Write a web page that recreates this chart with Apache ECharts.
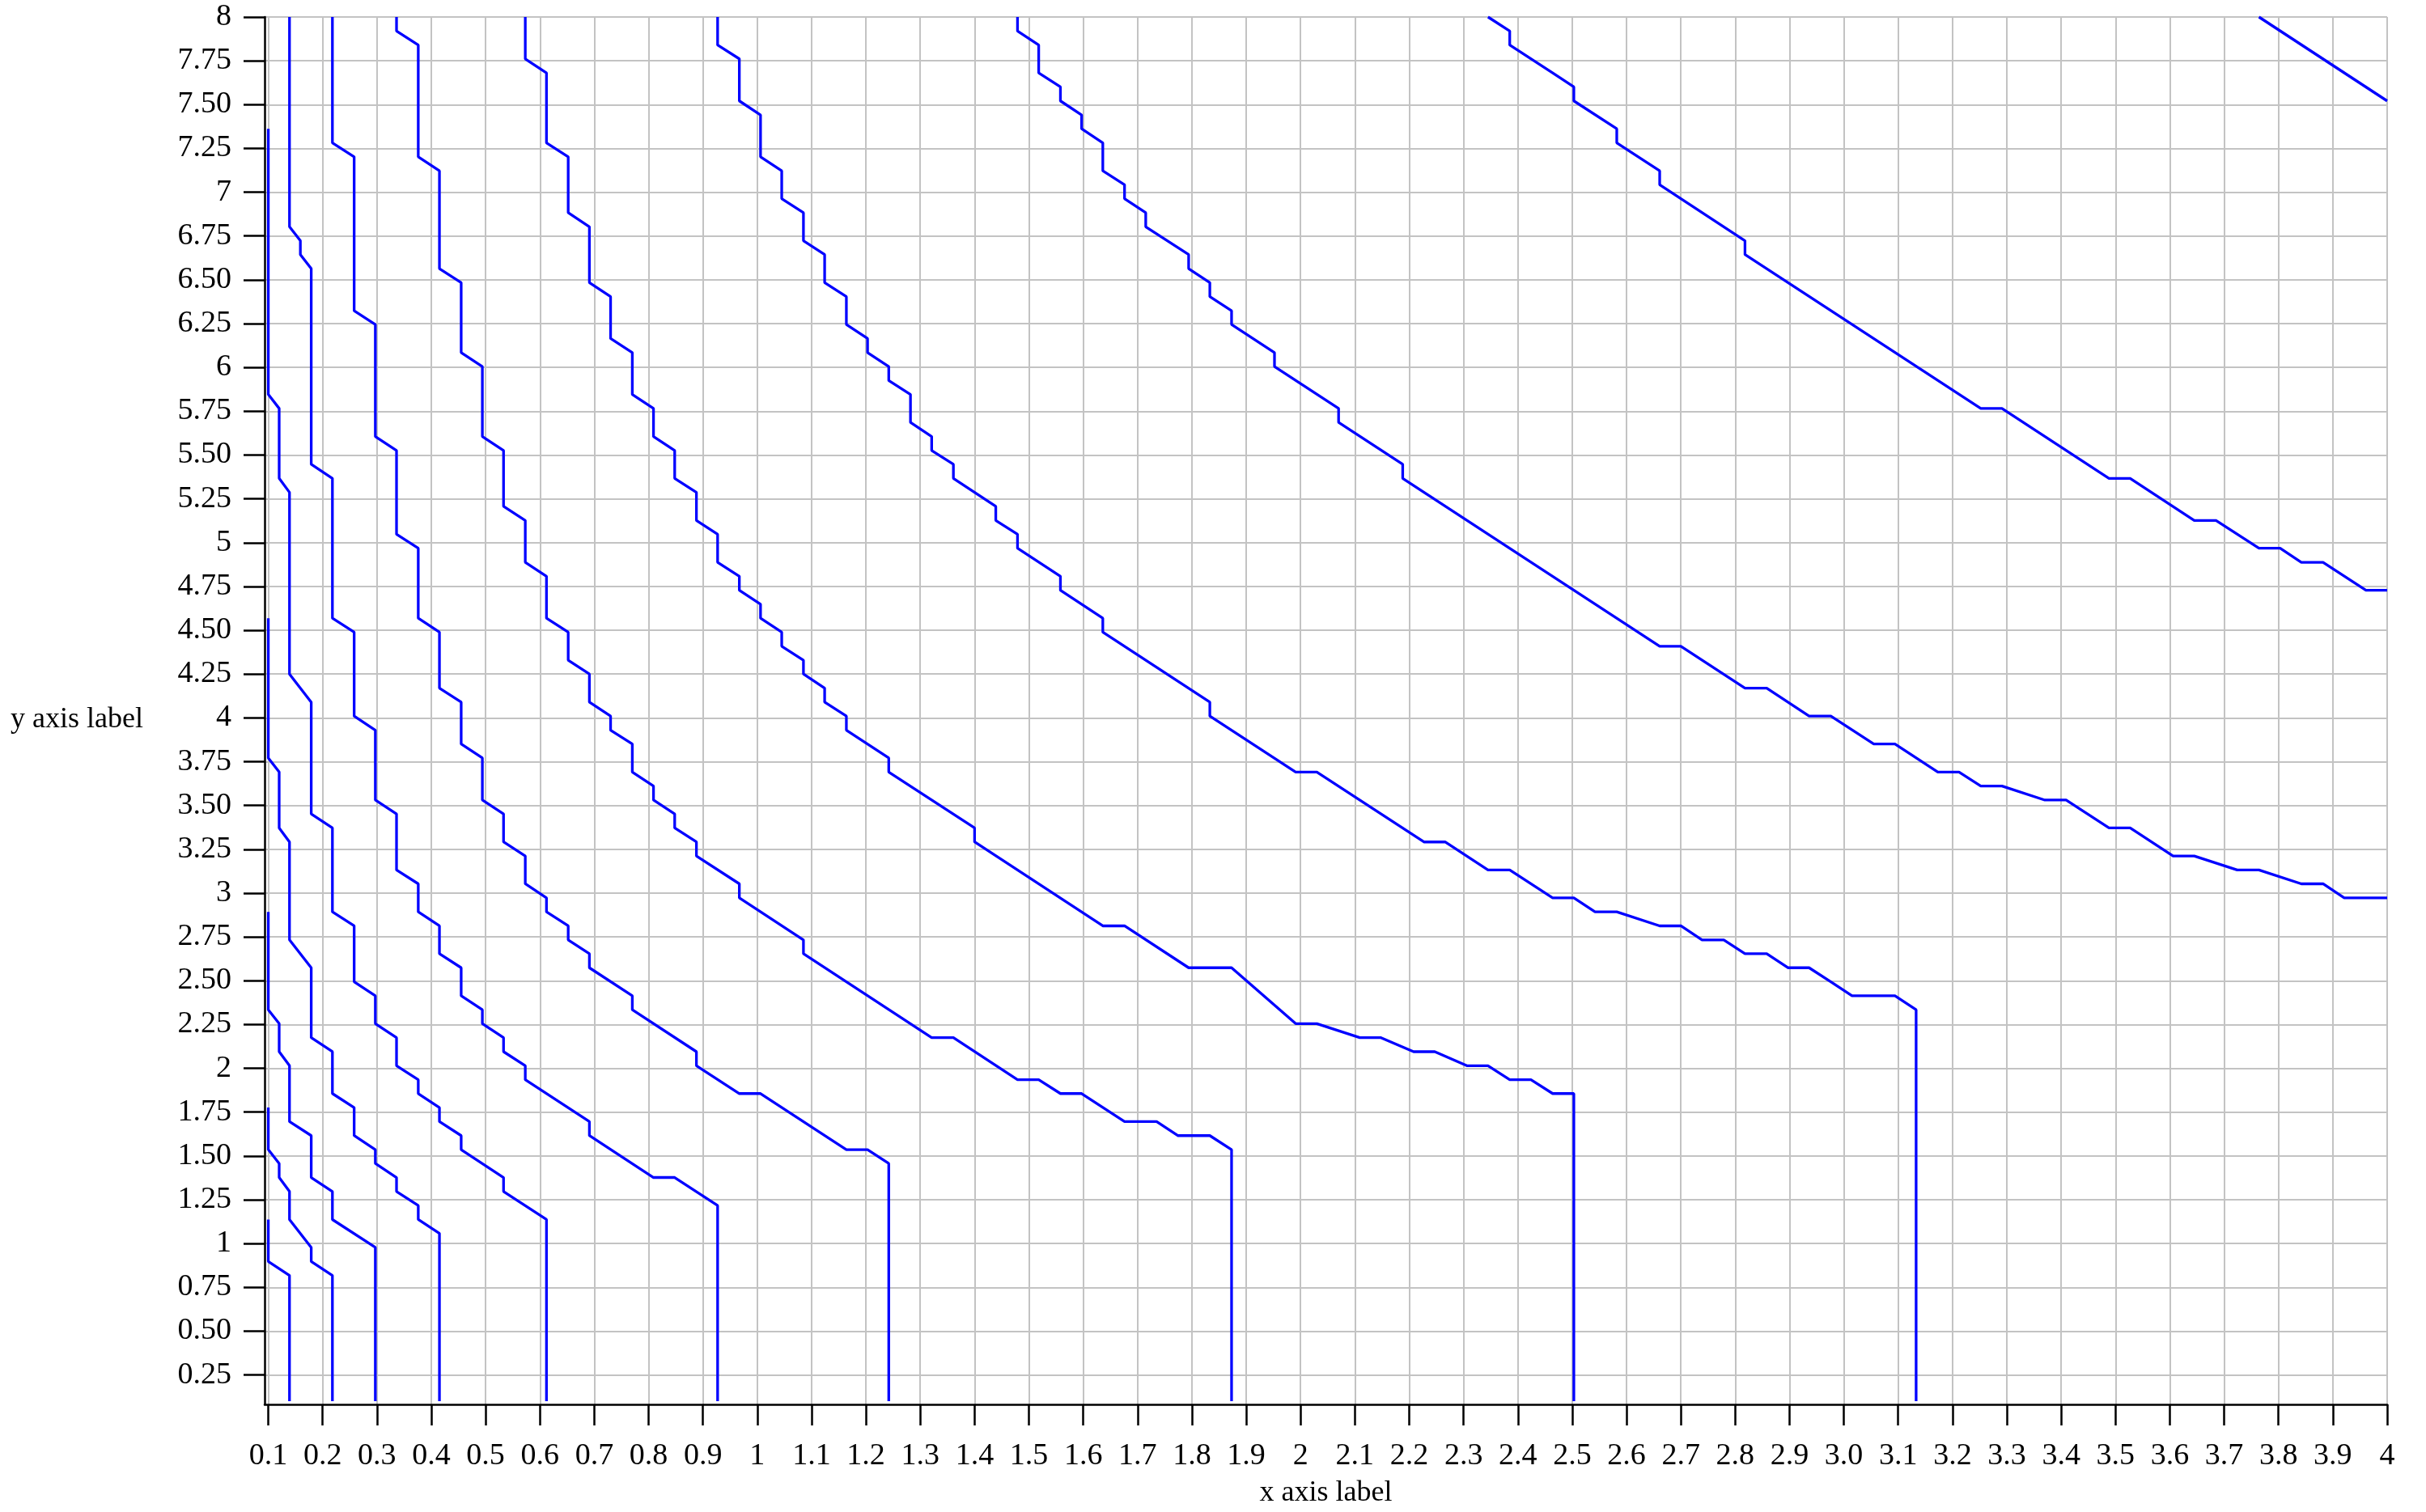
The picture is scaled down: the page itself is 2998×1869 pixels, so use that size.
<!DOCTYPE html>
<html><head><meta charset="utf-8">
<script src="https://cdn.jsdelivr.net/npm/echarts@6/dist/echarts.min.js"></script>
<style>html,body{margin:0;padding:0;background:#fff}#chart{width:2998px;height:1869px}</style>
</head><body><div id="chart"></div>
<script>
const xTickValues = [0.1,0.2,0.3,0.4,0.5,0.6,0.7,0.8,0.9,1,1.1,1.2,1.3,1.4,1.5,1.6,1.7,1.8,1.9,2,2.1,2.2,2.3,2.4,2.5,2.6,2.7,2.8,2.9,3,3.1,3.2,3.3,3.4,3.5,3.6,3.7,3.8,3.9,4];
const xTickLabels = ['0.1','0.2','0.3','0.4','0.5','0.6','0.7','0.8','0.9','1','1.1','1.2','1.3','1.4','1.5','1.6','1.7','1.8','1.9','2','2.1','2.2','2.3','2.4','2.5','2.6','2.7','2.8','2.9','3.0','3.1','3.2','3.3','3.4','3.5','3.6','3.7','3.8','3.9','4'];
const yTickValues = [0.25,0.5,0.75,1,1.25,1.5,1.75,2,2.25,2.5,2.75,3,3.25,3.5,3.75,4,4.25,4.5,4.75,5,5.25,5.5,5.75,6,6.25,6.5,6.75,7,7.25,7.5,7.75,8];
const yTickLabels = ['0.25','0.50','0.75','1','1.25','1.50','1.75','2','2.25','2.50','2.75','3','3.25','3.50','3.75','4','4.25','4.50','4.75','5','5.25','5.50','5.75','6','6.25','6.50','6.75','7','7.25','7.50','7.75','8'];

const contour01 = [[0.1,1.137],[0.1,0.898],[0.139,0.818],[0.139,0.1]];
const contour02 = [[0.1,1.776],[0.1,1.536],[0.12,1.457],[0.12,1.377],[0.139,1.297],[0.139,1.137],[0.179,0.978],[0.179,0.898],[0.218,0.818],[0.218,0.1]];
const contour03 = [[0.1,2.893],[0.1,2.334],[0.12,2.255],[0.12,2.095],[0.139,2.015],[0.139,1.696],[0.179,1.616],[0.179,1.377],[0.218,1.297],[0.218,1.137],[0.297,0.978],[0.297,0.1]];
const contour04 = [[0.1,4.569],[0.1,3.771],[0.12,3.691],[0.12,3.372],[0.139,3.292],[0.139,2.733],[0.179,2.574],[0.179,2.175],[0.218,2.095],[0.218,1.856],[0.258,1.776],[0.258,1.616],[0.297,1.536],[0.297,1.457],[0.336,1.377],[0.336,1.297],[0.376,1.217],[0.376,1.137],[0.415,1.058],[0.415,0.1]];
const contour05 = [[0.1,7.362],[0.1,5.846],[0.12,5.766],[0.12,5.367],[0.139,5.287],[0.139,4.25],[0.179,4.09],[0.179,3.452],[0.218,3.372],[0.218,2.893],[0.258,2.813],[0.258,2.494],[0.297,2.414],[0.297,2.255],[0.336,2.175],[0.336,2.015],[0.376,1.935],[0.376,1.856],[0.415,1.776],[0.415,1.696],[0.455,1.616],[0.455,1.536],[0.533,1.377],[0.533,1.297],[0.612,1.137],[0.612,0.1]];
const contour06 = [[0.139,8],[0.139,6.803],[0.159,6.723],[0.159,6.644],[0.179,6.564],[0.179,5.447],[0.218,5.367],[0.218,4.569],[0.258,4.489],[0.258,4.01],[0.297,3.93],[0.297,3.531],[0.336,3.452],[0.336,3.132],[0.376,3.053],[0.376,2.893],[0.415,2.813],[0.415,2.654],[0.455,2.574],[0.455,2.414],[0.494,2.334],[0.494,2.255],[0.533,2.175],[0.533,2.095],[0.573,2.015],[0.573,1.935],[0.691,1.696],[0.691,1.616],[0.809,1.377],[0.848,1.377],[0.927,1.217],[0.927,0.1]];
const contour07 = [[0.218,8],[0.218,7.282],[0.258,7.202],[0.258,6.324],[0.297,6.245],[0.297,5.606],[0.336,5.526],[0.336,5.048],[0.376,4.968],[0.376,4.569],[0.415,4.489],[0.415,4.17],[0.455,4.09],[0.455,3.851],[0.494,3.771],[0.494,3.531],[0.533,3.452],[0.533,3.292],[0.573,3.212],[0.573,3.053],[0.612,2.973],[0.612,2.893],[0.652,2.813],[0.652,2.733],[0.691,2.654],[0.691,2.574],[0.77,2.414],[0.77,2.334],[0.888,2.095],[0.888,2.015],[0.967,1.856],[1.006,1.856],[1.164,1.536],[1.203,1.536],[1.242,1.457],[1.242,0.1]];
const contour08 = [[0.336,8],[0.336,7.92],[0.376,7.84],[0.376,7.202],[0.415,7.122],[0.415,6.564],[0.455,6.484],[0.455,6.085],[0.494,6.005],[0.494,5.606],[0.533,5.526],[0.533,5.207],[0.573,5.127],[0.573,4.888],[0.612,4.808],[0.612,4.569],[0.652,4.489],[0.652,4.329],[0.691,4.25],[0.691,4.09],[0.73,4.01],[0.73,3.93],[0.77,3.851],[0.77,3.691],[0.809,3.611],[0.809,3.531],[0.848,3.452],[0.848,3.372],[0.888,3.292],[0.888,3.212],[0.967,3.053],[0.967,2.973],[1.085,2.733],[1.085,2.654],[1.321,2.175],[1.361,2.175],[1.479,1.935],[1.518,1.935],[1.558,1.856],[1.597,1.856],[1.676,1.696],[1.735,1.696],[1.774,1.616],[1.833,1.616],[1.873,1.536],[1.873,0.1]];
const contour09 = [[0.573,8],[0.573,7.761],[0.612,7.681],[0.612,7.282],[0.652,7.202],[0.652,6.883],[0.691,6.803],[0.691,6.484],[0.73,6.404],[0.73,6.165],[0.77,6.085],[0.77,5.846],[0.809,5.766],[0.809,5.606],[0.848,5.526],[0.848,5.367],[0.888,5.287],[0.888,5.127],[0.927,5.048],[0.927,4.888],[0.967,4.808],[0.967,4.728],[1.006,4.649],[1.006,4.569],[1.045,4.489],[1.045,4.409],[1.085,4.329],[1.085,4.25],[1.124,4.17],[1.124,4.09],[1.164,4.01],[1.164,3.93],[1.242,3.771],[1.242,3.691],[1.4,3.372],[1.4,3.292],[1.636,2.813],[1.676,2.813],[1.794,2.574],[1.873,2.574],[1.991,2.255],[2.03,2.255],[2.109,2.175],[2.148,2.175],[2.208,2.095],[2.247,2.095],[2.306,2.015],[2.345,2.015],[2.385,1.935],[2.424,1.935],[2.464,1.856],[2.503,1.856],[2.503,0.1]];
const contour10 = [[0.927,8],[0.927,7.84],[0.967,7.761],[0.967,7.521],[1.006,7.441],[1.006,7.202],[1.045,7.122],[1.045,6.963],[1.085,6.883],[1.085,6.723],[1.124,6.644],[1.124,6.484],[1.164,6.404],[1.164,6.245],[1.203,6.165],[1.203,6.085],[1.242,6.005],[1.242,5.925],[1.282,5.846],[1.282,5.686],[1.321,5.606],[1.321,5.526],[1.361,5.447],[1.361,5.367],[1.439,5.207],[1.439,5.127],[1.479,5.048],[1.479,4.968],[1.558,4.808],[1.558,4.728],[1.636,4.569],[1.636,4.489],[1.833,4.09],[1.833,4.01],[1.991,3.691],[2.03,3.691],[2.227,3.292],[2.266,3.292],[2.345,3.132],[2.385,3.132],[2.464,2.973],[2.503,2.973],[2.542,2.893],[2.582,2.893],[2.661,2.813],[2.7,2.813],[2.739,2.733],[2.779,2.733],[2.818,2.654],[2.858,2.654],[2.897,2.574],[2.936,2.574],[2.976,2.494],[3.015,2.414],[3.094,2.414],[3.133,2.334],[3.133,0.1]];
const contour11 = [[1.479,8],[1.479,7.92],[1.518,7.84],[1.518,7.681],[1.558,7.601],[1.558,7.521],[1.597,7.441],[1.597,7.362],[1.636,7.282],[1.636,7.122],[1.676,7.043],[1.676,6.963],[1.715,6.883],[1.715,6.803],[1.794,6.644],[1.794,6.564],[1.833,6.484],[1.833,6.404],[1.873,6.324],[1.873,6.245],[1.952,6.085],[1.952,6.005],[2.07,5.766],[2.07,5.686],[2.188,5.447],[2.188,5.367],[2.661,4.409],[2.7,4.409],[2.818,4.17],[2.858,4.17],[2.936,4.01],[2.976,4.01],[3.055,3.851],[3.094,3.851],[3.173,3.691],[3.212,3.691],[3.252,3.611],[3.291,3.611],[3.37,3.531],[3.409,3.531],[3.488,3.372],[3.527,3.372],[3.606,3.212],[3.645,3.212],[3.724,3.132],[3.764,3.132],[3.842,3.053],[3.882,3.053],[3.921,2.973],[4,2.973]];
const contour12 = [[2.345,8],[2.385,7.92],[2.385,7.84],[2.464,7.681],[2.503,7.601],[2.503,7.521],[2.582,7.362],[2.582,7.282],[2.661,7.122],[2.661,7.043],[2.818,6.723],[2.818,6.644],[3.252,5.766],[3.291,5.766],[3.488,5.367],[3.527,5.367],[3.645,5.127],[3.685,5.127],[3.764,4.968],[3.803,4.968],[3.842,4.888],[3.882,4.888],[3.961,4.728],[4,4.728]];
const contour13 = [[3.764,8],[4,7.521]];

const contours = [contour01,contour02,contour03,contour04,contour05,contour06,contour07,contour08,contour09,contour10,contour11,contour12,contour13];

function labelFor(values, labels, v) {
  for (let i = 0; i < values.length; i++) { if (Math.abs(values[i] - v) < 1e-6) return labels[i]; }
  return '';
}
const fontFamily = '"Liberation Serif", "Times New Roman", serif';
const chart = echarts.init(document.getElementById('chart'), null, {renderer: 'canvas'});
chart.setOption({
  animation: false,
  backgroundColor: '#ffffff',
  grid: {left: 327, right: 48, top: 21, bottom: 121, containLabel: false},
  xAxis: {
    type: 'value', min: 0.0932, max: 4,
    name: 'x axis label', nameLocation: 'middle', nameGap: 92,
    nameTextStyle: {fontFamily: fontFamily, fontSize: 36, color: '#000'},
    axisLine: {show: true, onZero: false, lineStyle: {color: '#000', width: 2.5}},
    axisTick: {show: true, customValues: xTickValues, length: 26, lineStyle: {color: '#000', width: 2.5}},
    axisLabel: {show: true, customValues: xTickValues, margin: 45, fontFamily: fontFamily, fontSize: 38, color: '#000',
      formatter: function (v) { return labelFor(xTickValues, xTickLabels, v); }},
    splitLine: {show: true, lineStyle: {color: '#c3c3c3', width: 2}}
  },
  yAxis: {
    type: 'value', min: 0.082, max: 8,
    name: 'y axis label', nameLocation: 'middle', nameGap: 150, nameRotate: 0,
    nameTextStyle: {fontFamily: fontFamily, fontSize: 36, color: '#000', verticalAlign: 'top', lineHeight: 22},
    axisLine: {show: true, onZero: false, lineStyle: {color: '#000', width: 2.5}},
    axisTick: {show: true, customValues: yTickValues, length: 26, lineStyle: {color: '#000', width: 2.5}},
    axisLabel: {show: true, customValues: yTickValues, margin: 41, fontFamily: fontFamily, fontSize: 38, color: '#000',
      formatter: function (v) { return labelFor(yTickValues, yTickLabels, v); }},
    splitLine: {show: true, lineStyle: {color: '#c3c3c3', width: 2}}
  },
  series: contours.map(function (d) {
    return {type: 'line', data: d, showSymbol: false, symbol: 'none', silent: true, clip: true,
      lineStyle: {color: '#0000ff', width: 3.3}};
  })
});
</script></body></html>
